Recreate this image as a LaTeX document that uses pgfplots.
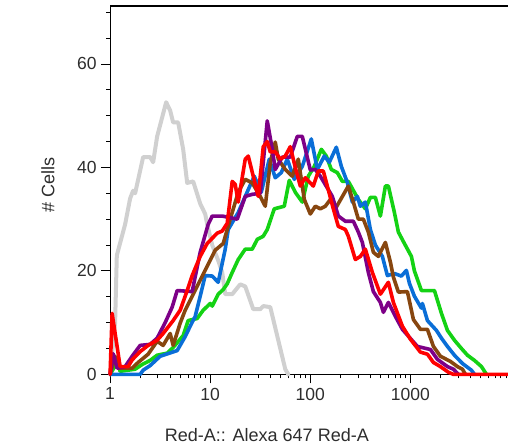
\documentclass[border=0pt]{standalone}
\usepackage{fontspec}
\setmainfont{Liberation Sans}
\usepackage{pgfplots}
\usepackage{pgfplotstable}
\pgfplotsset{compat=1.18}

\definecolor{cgrey}{RGB}{208,208,208}
\definecolor{cpurple}{RGB}{125,0,135}
\definecolor{cbrown}{RGB}{135,70,15}
\definecolor{cblue}{RGB}{10,110,215}
\definecolor{cgreen}{RGB}{20,210,20}
\definecolor{cred}{RGB}{255,0,0}
\definecolor{ctext}{RGB}{45,45,45}

% d = log10 of the Red-A value, n = # cells
\pgfplotstableread{
d n
0.00 0
0.05 10
0.067 23
0.15 29
0.20 34
0.23 35.5
0.25 35
0.33 42
0.40 42
0.43 41
0.47 46
0.56 52.6
0.60 51
0.63 48.7
0.68 48.7
0.73 43.5
0.77 37
0.83 37.3
0.90 33
0.95 31
0.97 29
1.02 25
1.08 22
1.12 19.7
1.15 15.5
1.22 15.5
1.30 17.4
1.35 17
1.43 12.6
1.50 12.6
1.53 13.2
1.60 13
1.75 1
1.78 0
}\greydata

\pgfplotstableread{
d n
0.00 0
0.07 2.3
0.10 0.6
0.25 1
0.32 1.9
0.40 2.7
0.47 3.7
0.57 4.1
0.63 5.2
0.73 7.5
0.78 10.4
0.87 10.8
0.93 12.4
1.00 13.7
1.02 13.2
1.08 15.5
1.13 16.4
1.17 17.5
1.22 19.7
1.28 22.2
1.35 24.2
1.42 24.2
1.47 26.1
1.53 26.7
1.57 28
1.64 32
1.74 32.5
1.79 37.5
1.85 35.2
1.92 33.3
1.98 38.3
2.04 40.2
2.11 43.5
2.16 42.2
2.21 39.6
2.27 39
2.32 37.3
2.38 37.3
2.48 33.8
2.55 32
2.60 34.2
2.65 34.2
2.70 30.6
2.75 36.4
2.78 36.4
2.84 31.3
2.88 27.5
2.94 25.3
3.01 22.8
3.04 20
3.11 16.2
3.24 16.2
3.31 11.8
3.37 8.5
3.44 6.6
3.51 5
3.57 3.7
3.64 2.7
3.71 1.5
3.74 0.6
3.76 0
}\greendata

\pgfplotstableread{
d n
0.00 0
0.30 0
0.33 0.8
0.40 1.7
0.50 3.5
0.67 4.6
0.75 7.3
0.80 9.3
0.85 11.2
0.90 15.1
0.95 19.1
1.02 19
1.08 17.8
1.15 24.2
1.18 28
1.28 31.3
1.35 34.4
1.44 38.3
1.51 35.2
1.59 41.6
1.65 38
1.71 39
1.77 41.6
1.84 37.7
1.92 40.2
2.01 45.5
2.07 39.6
2.14 42.2
2.19 41
2.26 43.9
2.31 40.2
2.37 37.1
2.42 33.3
2.47 34.4
2.50 32.5
2.55 33.3
2.60 28
2.65 25
2.72 22.8
2.77 19.1
2.84 19.5
2.91 19
2.96 20.1
2.99 17.6
3.04 15.1
3.11 12.8
3.12 13.7
3.17 10.4
3.26 8.5
3.31 7
3.37 5.4
3.44 3.7
3.52 2.1
3.61 0.8
3.64 0
}\bluedata

\pgfplotstableread{
d n
0.00 0
0.05 3.5
0.08 1.2
0.22 1.2
0.28 2.3
0.38 3.9
0.47 6.4
0.53 5.6
0.60 7.9
0.63 5.6
0.70 9.9
0.75 12.4
0.82 15.1
0.90 18.2
0.97 20.9
1.05 24
1.13 25.3
1.20 30
1.28 35.2
1.35 37.7
1.42 37
1.50 34.4
1.55 32.5
1.60 40.9
1.65 44.9
1.68 41.6
1.75 39.6
1.82 38.3
1.88 41.6
1.94 33.8
2.00 31
2.05 32.5
2.10 32
2.15 32.5
2.20 33.8
2.25 32
2.38 36.4
2.43 33.3
2.48 30
2.53 30
2.58 27.5
2.63 23.6
2.68 22.8
2.75 25.5
2.80 21.7
2.83 18.8
2.88 15.9
2.97 16
3.03 10.6
3.10 8.7
3.17 8.7
3.23 5.4
3.30 3.5
3.40 2.5
3.47 1.5
3.52 1
3.55 0
}\browndata

\pgfplotstableread{
d n
0.00 0
0.03 4
0.07 1.2
0.15 1.5
0.22 3.5
0.30 5.6
0.40 5.8
0.47 7
0.55 10
0.62 13
0.67 16.2
0.82 16
0.90 23.6
0.98 29
1.02 30.6
1.12 30.6
1.27 30
1.35 34.4
1.42 34.8
1.50 35
1.57 49
1.62 43.5
1.65 39.6
1.72 42
1.80 42
1.87 46
1.92 46
2.00 39.5
2.05 39.6
2.10 38.3
2.22 34.4
2.28 30.6
2.35 29.6
2.43 29.6
2.48 27.5
2.52 25.5
2.58 19.7
2.63 16
2.70 13.9
2.73 12
2.78 13.9
2.85 11.2
2.92 8.7
3.07 5.4
3.20 4.8
3.27 2.9
3.37 1.5
3.43 1
3.48 0
}\purpledata

\pgfplotstableread{
d n
0.00 0
0.02 11.8
0.10 1.5
0.18 1.5
0.22 2.8
0.30 4.4
0.38 5.6
0.47 6.6
0.53 7.9
0.63 10.4
0.70 12.4
0.77 16.2
0.82 19.1
0.90 22.8
0.97 25.3
1.07 27.3
1.12 27.7
1.17 29.2
1.22 37.3
1.25 36.7
1.28 33.3
1.35 41.6
1.38 42.2
1.43 38.3
1.48 34.4
1.53 44
1.57 45
1.60 43
1.65 43
1.70 41.6
1.75 42.2
1.80 44
1.85 40
1.90 36.4
1.95 38
2.03 36.4
2.08 39.3
2.13 39.3
2.17 36.4
2.23 32
2.28 28.6
2.35 28
2.38 26.7
2.45 22.2
2.50 22.8
2.55 24.2
2.62 19.7
2.70 15.5
2.78 17.8
2.83 13.9
2.92 9.3
3.00 6.8
3.10 4.3
3.17 3.9
3.23 2.3
3.30 1.5
3.38 0.4
3.43 0
3.975 0
}\reddata

\begin{document}
\begin{tikzpicture}
\begin{axis}[
  scale only axis,
  width=397.5bp, height=368bp,
  xmode=log,
  xmin=1, xmax=9440,
  ymin=0, ymax=71.2,
  axis x line*=bottom,
  axis y line*=left,
  axis line style={black, line width=1.1bp, -},
  tick align=outside,
  major tick length=9bp,
  minor tick length=4bp,
  every tick/.style={black, line width=0.8bp},
  xtick={1,10,100,1000},
  xticklabels={1,10,100,1000},
  minor xtick={2,3,4,5,6,7,8,9,20,30,40,50,60,70,80,90,200,300,400,500,600,700,800,900,2000,3000,4000,5000,6000,7000,8000,9000},
  ytick={0,20,40,60},
  minor ytick={5,10,15,25,30,35,45,50,55,65,70},
  /pgf/number format/assume math mode=true,
  tick label style={font=\fontsize{17.5bp}{20bp}\selectfont, text=ctext},
  xticklabel style={yshift=-1bp},
  yticklabel style={xshift=-1bp},
  label style={font=\fontsize{18bp}{21bp}\selectfont, text=ctext},
  xlabel={Red-A:: Alexa 647 Red-A},
  ylabel={\# Cells},
  xlabel style={at={(axis description cs:0.394,-0.165)}, anchor=center},
  ylabel style={at={(axis description cs:-0.156,0.515)}, anchor=center},
  clip=false,
  every axis plot/.append style={line width=3.6bp, line join=round, line cap=round},
]
\draw[black, line width=1.1bp] (rel axis cs:0,1) -- (rel axis cs:1,1);
\addplot[cgrey, line width=4bp] table[x expr={10^\thisrow{d}}, y=n] {\greydata};
\addplot[cgreen] table[x expr={10^\thisrow{d}}, y=n] {\greendata};
\addplot[cblue] table[x expr={10^\thisrow{d}}, y=n] {\bluedata};
\addplot[cbrown] table[x expr={10^\thisrow{d}}, y=n] {\browndata};
\addplot[cpurple] table[x expr={10^\thisrow{d}}, y=n] {\purpledata};
\addplot[cred] table[x expr={10^\thisrow{d}}, y=n] {\reddata};
\end{axis}
\pgfresetboundingbox
\path (-110bp,-73bp) rectangle (397.5bp,374bp);
\end{tikzpicture}
\end{document}
